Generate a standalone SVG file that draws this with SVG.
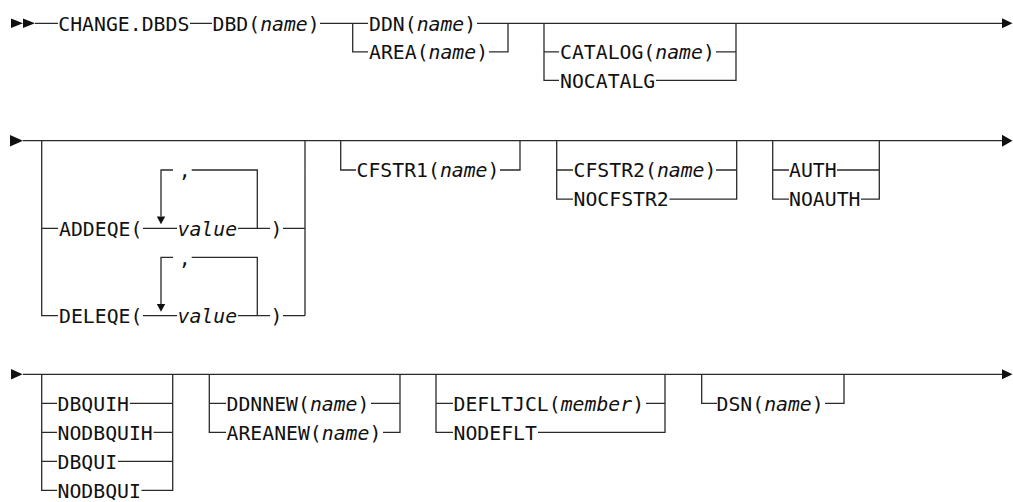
<svg xmlns="http://www.w3.org/2000/svg" width="1013" height="502" viewBox="0 0 1013 502">
<style>
.t{font-family:"DejaVu Sans Mono","Liberation Mono",monospace;font-size:19.8px;fill:#111}
.i{font-style:italic}
.c{fill:none;stroke:#2a2a2a;stroke-width:1.3}
.a{fill:#111;stroke:none}
</style>
<rect width="1013" height="502" fill="#fff"/>
<g id="connectors">
<path class="c" d="M35 23.3H58M190 23.3H212M320 23.3H368M352.7 23.3V51.8H368M477 23.3H1002M489 51.8H508V23.3M544 23.3V80.3H559M544 51.8H559M716 51.8H736M656 80.3H736V23.3"/>
<path class="c" d="M23 140.7H1002M41.7 140.7V315.7H58M41.7 228.3H58M143 228.3H177M238 228.3H270M283 228.3H305M305 140.7V315.7M161 216.5V170H173M191.7 170H257.3V228.3"/>
<path class="c" d="M143 315.7H177M238 315.7H270M283 315.7H305M161 303.9V257.4H173M191.7 257.4H257.3V315.7"/>
<path class="c" d="M340.7 140.7V170H356M500 170H520V140.7M556.7 140.7V199.1H573M556.7 170H573M716 170H736.7M669.5 199.1H736.7V140.7M772.7 140.7V199.1H789M772.7 170H789M837 170H879.3M861 199.1H879.3V140.7"/>
<path class="c" d="M23 374.3H1002M41.7 374.3V490.3H57M41.7 403.3H57M41.7 432.3H57M41.7 461.3H57M130 403.3H172.7M153.5 432.3H172.7M118 461.3H172.7M141.5 490.3H172.7V374.3"/>
<path class="c" d="M209.3 374.3V432.3H226M209.3 403.3H226M371 403.3H400M383 432.3H400V374.3M436 374.3V432.3H453M436 403.3H453M646 403.3H665M538 432.3H665V374.3M701.7 374.3V403.3H717M825 403.3H844V374.3"/>
<polygon class="a" points="11,18.5 23,23.3 11,28.1"/>
<polygon class="a" points="23,18.5 35,23.3 23,28.1"/>
<polygon class="a" points="1002,18.3 1012.5,23.3 1002,28.3"/>
<polygon class="a" points="10,135 23,140.7 10,146.4"/>
<polygon class="a" points="1002,134.7 1012.5,140.7 1002,146.7"/>
<polygon class="a" points="11,369 22.7,374.3 11,379.6"/>
<polygon class="a" points="1002,369.3 1012.5,374.3 1002,379.3"/>
<polygon class="a" points="156.8,216.5 165.2,216.5 161,224.3"/>
<polygon class="a" points="156.8,303.9 165.2,303.9 161,311.7"/>
</g>
<g id="n-change"><text class="t" x="58.3" y="30.5">CHANGE.DBDS</text></g>
<g id="n-dbd"><text class="t" x="212.5" y="30.5">DBD(<tspan class="i">name</tspan>)</text></g>
<g id="n-ddn"><text class="t" x="369" y="30.5">DDN(<tspan class="i">name</tspan>)</text></g>
<g id="n-area"><text class="t" x="369" y="59">AREA(<tspan class="i">name</tspan>)</text></g>
<g id="n-catalog"><text class="t" x="560" y="59">CATALOG(<tspan class="i">name</tspan>)</text></g>
<g id="n-nocatalg"><text class="t" x="560" y="87.5">NOCATALG</text></g>
<g id="n-addeqe">
<text class="t" x="59" y="235.5">ADDEQE(</text>
<text class="t" x="184.7" y="177.3" text-anchor="middle">,</text>
<text class="t i" x="177.5" y="235.5">value</text>
<text class="t" x="270.5" y="235.5">)</text>
</g>
<g id="n-deleqe">
<text class="t" x="59" y="322.9">DELEQE(</text>
<text class="t" x="184.7" y="264.7" text-anchor="middle">,</text>
<text class="t i" x="177.5" y="322.9">value</text>
<text class="t" x="270.5" y="322.9">)</text>
</g>
<g id="n-cfstr1"><text class="t" x="356.5" y="177.2">CFSTR1(<tspan class="i">name</tspan>)</text></g>
<g id="n-cfstr2"><text class="t" x="573.5" y="177.2">CFSTR2(<tspan class="i">name</tspan>)</text></g>
<g id="n-nocfstr2"><text class="t" x="573.5" y="206.3">NOCFSTR2</text></g>
<g id="n-auth"><text class="t" x="789" y="177.2">AUTH</text></g>
<g id="n-noauth"><text class="t" x="789" y="206.3">NOAUTH</text></g>
<g id="n-dbquih"><text class="t" x="57.5" y="410.5">DBQUIH</text></g>
<g id="n-nodbquih"><text class="t" x="57.5" y="439.5">NODBQUIH</text></g>
<g id="n-dbqui"><text class="t" x="57.5" y="468.5">DBQUI</text></g>
<g id="n-nodbqui"><text class="t" x="57.5" y="497.5">NODBQUI</text></g>
<g id="n-ddnnew"><text class="t" x="226.5" y="410.5">DDNNEW(<tspan class="i">name</tspan>)</text></g>
<g id="n-areanew"><text class="t" x="226.5" y="439.5">AREANEW(<tspan class="i">name</tspan>)</text></g>
<g id="n-defltjcl"><text class="t" x="453.5" y="410.5">DEFLTJCL(<tspan class="i">member</tspan>)</text></g>
<g id="n-nodeflt"><text class="t" x="453.5" y="439.5">NODEFLT</text></g>
<g id="n-dsn"><text class="t" x="716.5" y="410.5">DSN(<tspan class="i">name</tspan>)</text></g>
</svg>
